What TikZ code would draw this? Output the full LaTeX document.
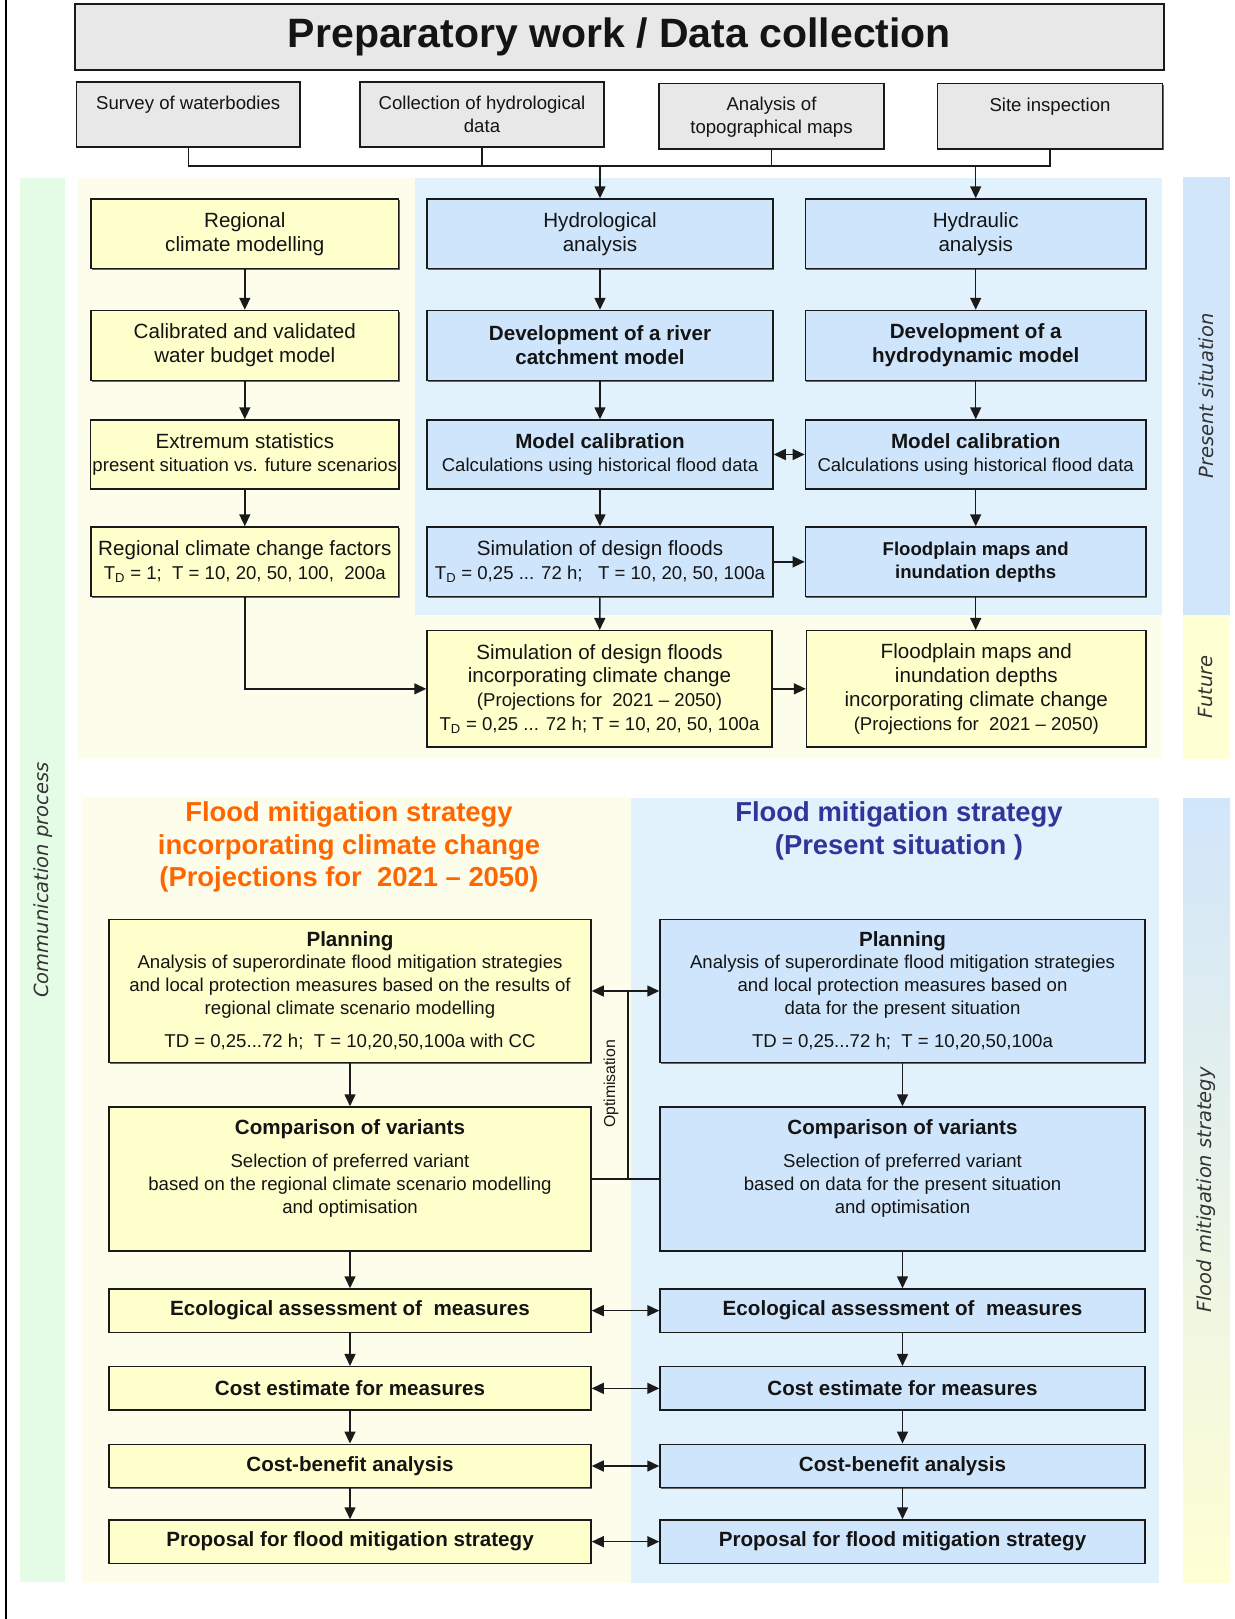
\documentclass[tikz,border=0pt]{standalone}
\usepackage{fontspec}
\setmainfont{Liberation Sans}
\newfontfamily\sidefont{DejaVu Sans}
\usetikzlibrary{arrows.meta,shadows}
\definecolor{cBoxY}{HTML}{FFFFCC}
\definecolor{cBoxB}{HTML}{CFE5FC}
\definecolor{cGray}{HTML}{E8E8E8}
\definecolor{cPanY}{HTML}{FDFDEB}
\definecolor{cPanB}{HTML}{E2F2FD}
\definecolor{cGreen}{HTML}{E4FCE6}
\definecolor{cStripB}{HTML}{D2E6FB}
\definecolor{cStripY}{HTML}{FFFFD4}
\definecolor{cStripM}{HTML}{E9F2E6}
\definecolor{cOrange}{HTML}{FF6600}
\definecolor{cNavy}{HTML}{333399}
\definecolor{cLine}{HTML}{1A1A1A}
\newcommand\fa{\fontsize{20.6pt}{23.8pt}\selectfont}
\newcommand\fb{\fontsize{18.6pt}{22.8pt}\selectfont}
\newcommand\fhead{\fontsize{41pt}{46pt}\selectfont\bfseries}
\newcommand\ftitle{\fontsize{27.4pt}{32.5pt}\selectfont\bfseries}
\newcommand\fside{\sidefont\itshape\fontsize{19.5pt}{22pt}\selectfont}
\newcommand\fopt{\fontsize{15.8pt}{18pt}\selectfont}
\tikzset{
  box/.style={draw=cLine, line width=1.5pt, inner sep=2pt, align=center, font=\fa, text=black!92,
    general shadow={fill=black!60, shadow xshift=1pt, shadow yshift=-1pt}},
  yb/.style={box, fill=cBoxY},
  bb/.style={box, fill=cBoxB},
  gb/.style={box, fill=cGray},
  sz/.style 2 args={minimum width=#1, minimum height=#2},
  txt/.style={inner sep=0pt, align=center, text=black!92},
  ln/.style={draw=cLine, line width=1.5pt},
  arr/.style={ln, -{Triangle[length=12pt,width=11pt]}},
  dbl/.style={ln, {Triangle[length=12pt,width=11pt]}-{Triangle[length=12pt,width=11pt]}},
  side/.style={rotate=90, font=\fside, text=black!80, inner sep=0pt}
}
\begin{document}
\begin{tikzpicture}[x=1pt,y=-1pt]
\useasboundingbox (0,0) rectangle (1234,1619);
\fill[white] (0,0) rectangle (1234,1619);
% left border line
\draw[line width=2pt, black] (6,0) -- (6,1619);
% background panels
\fill[cGreen] (20,178) rectangle (64.5,1582);
\fill[cPanY] (76.5,178) rectangle (1162,759);
\fill[cPanB] (415,178) rectangle (1162,614.7);
\fill[cPanY] (82,797) rectangle (631,1582.5);
\fill[cPanB] (631,798) rectangle (1158.5,1582.5);
\fill[cStripB] (1183,177) rectangle (1230,614.7);
\fill[cStripY] (1183,614.7) rectangle (1230,759);
\shade[top color=cStripB, middle color=cStripM, bottom color=cStripY] (1183,798) rectangle (1230,1582);
% side labels
\node[side] (lcomm) at (43,880) {Communication process};
\node[side] (lpres) at (1206,396) {Present situation};
\node[side] (lfut) at (1206,687) {Future};
\node[side] (lflood) at (1206,1190) {Flood mitigation strategy};

% header
\node[gb, sz={1089pt}{66pt}, font=\fhead] (head) at (619.5,37) {Preparatory work / Data collection};
\node[gb, sz={223.5pt}{65pt}] (survey) at (188.25,114.5) {};
\node[gb, sz={244pt}{65pt}] (coll) at (482,114.5) {};
\node[gb, sz={225pt}{65.5pt}] (anal) at (771.5,116.25) {};
\node[gb, sz={225pt}{65.5pt}] (site) at (1050,116.25) {};
\node[txt, font=\fb] (tsurvey) at (188.25,105) {Survey of waterbodies};
\node[txt, font=\fb] (tcoll) at (482,114.5) {Collection of hydrological\\data};
\node[txt, font=\fb] (tanal) at (771.5,117) {Analysis of\\topographical maps};
\node[txt, font=\fb] (tsite) at (1050,106.5) {Site inspection};

% upper left column
\node[yb, sz={307.6pt}{69.7pt}] (reg) at (244.8,233.85) {Regional\\climate modelling};
\node[yb, sz={307.6pt}{70pt}] (cal) at (244.8,345.5) {Calibrated and validated\\water budget model};
\node[yb, sz={307.6pt}{69pt}] (ext) at (244.8,454.5) {Extremum statistics\\{\fb present situation vs. future scenarios}};
\node[yb, sz={307.6pt}{69.7pt}] (fac) at (244.8,561.85) {Regional climate change factors\\{\fb T\textsubscript{D} = 1;\ \ T = 10, 20, 50, 100,\ \ 200a}};
% middle column
\node[bb, sz={346pt}{69.7pt}] (hyd) at (600,233.85) {Hydrological\\analysis};
\node[bb, sz={346pt}{70pt}] (dev1) at (600,345.5) {\bfseries Development of a river\\\bfseries catchment model};
\node[bb, sz={346pt}{69pt}] (mc1) at (600,454.5) {\bfseries Model calibration\\{\fb Calculations using historical flood data}};
\node[bb, sz={346pt}{69.7pt}] (sim) at (600,561.85) {Simulation of design floods\\{\fb T\textsubscript{D} = 0,25 ... 72 h;\ \ \ T = 10, 20, 50, 100a}};
% right column
\node[bb, sz={340.6pt}{69.7pt}] (hyr) at (975.7,233.85) {Hydraulic\\analysis};
\node[bb, sz={340.6pt}{70pt}] (dev2) at (975.7,345.5) {\bfseries Development of a\\\bfseries hydrodynamic model};
\node[bb, sz={340.6pt}{69pt}] (mc2) at (975.7,454.5) {\bfseries Model calibration\\{\fb Calculations using historical flood data}};
\node[bb, sz={340.6pt}{69.7pt}, font=\fb\bfseries] (fp) at (975.7,561.85) {Floodplain maps and\\inundation depths};
% future row
\node[yb, sz={345pt}{116.3pt}] (simcc) at (599.5,688.85) {Simulation of design floods\\incorporating climate change\\{\fb (Projections for\ \ 2021 -- 2050)}\\{\fb T\textsubscript{D} = 0,25 ... 72 h; T = 10, 20, 50, 100a}};
\node[yb, sz={339.4pt}{116.3pt}] (fpcc) at (976.3,688.85) {Floodplain maps and\\inundation depths\\incorporating climate change\\{\fb (Projections for\ \ 2021 -- 2050)}};

% lower titles
\node[txt, font=\ftitle, text=cOrange] (titL) at (349,847.3) {Flood mitigation strategy\\incorporating climate change\\(Projections for\ \ 2021 -- 2050)};
\node[txt, font=\ftitle, text=cNavy] (titR) at (899,831) {Flood mitigation strategy\\(Present situation )};

% lower boxes left
\node[yb, sz={482pt}{143.4pt}] (planL) at (350,991) {};
\node[yb, sz={482pt}{144pt}] (cmpL) at (350,1179) {};
\node[yb, sz={482pt}{43.3pt}, font=\fa\bfseries] (ecoL) at (350,1310.65) {Ecological assessment of\ \ measures};
\node[yb, sz={482pt}{43.3pt}, font=\fa\bfseries] (cstL) at (350,1388.35) {Cost estimate for measures};
\node[yb, sz={482pt}{43.4pt}, font=\fa\bfseries] (cbaL) at (350,1466) {Cost-benefit analysis};
\node[yb, sz={482pt}{43.3pt}, font=\fa\bfseries] (prpL) at (350,1541.65) {Proposal for flood mitigation strategy};
% lower boxes right
\node[bb, sz={485pt}{143.4pt}] (planR) at (902.5,991) {};
\node[bb, sz={485pt}{144pt}] (cmpR) at (902.5,1179) {};
\node[bb, sz={485pt}{43.3pt}, font=\fa\bfseries] (ecoR) at (902.5,1310.65) {Ecological assessment of\ \ measures};
\node[bb, sz={485pt}{43.3pt}, font=\fa\bfseries] (cstR) at (902.5,1388.35) {Cost estimate for measures};
\node[bb, sz={485pt}{43.4pt}, font=\fa\bfseries] (cbaR) at (902.5,1466) {Cost-benefit analysis};
\node[bb, sz={485pt}{43.3pt}, font=\fa\bfseries] (prpR) at (902.5,1541.65) {Proposal for flood mitigation strategy};

% planning texts
\node[txt, font=\fa\bfseries] (plLt) at (350,941.7) {Planning};
\node[txt, font=\fb] (plLb) at (350,986.7) {Analysis of superordinate flood mitigation strategies\\and local protection measures based on the results of\\regional climate scenario modelling};
\node[txt, font=\fb] (plLd) at (350,1041.7) {TD = 0,25...72 h;\ \ T = 10,20,50,100a with CC};
\node[txt, font=\fa\bfseries] (plRt) at (902.5,941.7) {Planning};
\node[txt, font=\fb] (plRb) at (902.5,986.7) {Analysis of superordinate flood mitigation strategies\\and local protection measures based on\\data for the present situation};
\node[txt, font=\fb] (plRd) at (902.5,1041.7) {TD = 0,25...72 h;\ \ T = 10,20,50,100a};
% comparison texts
\node[txt, font=\fa\bfseries] (cmLt) at (350,1129) {Comparison of variants};
\node[txt, font=\fb] (cmLb) at (350,1185.5) {Selection of preferred variant\\based on the regional climate scenario modelling\\and optimisation};
\node[txt, font=\fa\bfseries] (cmRt) at (902.5,1129) {Comparison of variants};
\node[txt, font=\fb] (cmRb) at (902.5,1185.5) {Selection of preferred variant\\based on data for the present situation\\and optimisation};
\node[txt, font=\fopt, rotate=90] (opt) at (611,1084) {Optimisation};

% connectors top
\coordinate (barY) at (0,166);
\draw[ln] (survey.south) -- (survey.south |- barY) -- (site.south |- barY) -- (site.south);
\draw[ln] (coll.south) -- (coll.south |- barY);
\draw[ln] (anal.south) -- (anal.south |- barY);
\draw[arr] (hyd.north |- barY) -- (hyd.north);
\draw[arr] (hyr.north |- barY) -- (hyr.north);
% upper vertical arrows
\draw[arr] (reg) -- (cal);
\draw[arr] (cal) -- (ext);
\draw[arr] (ext) -- (fac);
\draw[arr] (hyd) -- (dev1);
\draw[arr] (dev1) -- (mc1);
\draw[arr] (mc1) -- (sim);
\draw[arr] (sim) -- (simcc);
\draw[arr] (hyr) -- (dev2);
\draw[arr] (dev2) -- (mc2);
\draw[arr] (mc2) -- (fp);
\draw[arr] (fp.south) -- (fpcc.north -| fp.south);
\draw[dbl] (mc1) -- (mc2);
\draw[arr] (sim) -- (fp);
\draw[arr] (fac.south) |- (simcc.west);
\draw[arr] (simcc) -- (fpcc);
% lower
\draw[arr] (planL) -- (cmpL);
\draw[arr] (cmpL) -- (ecoL);
\draw[arr] (ecoL) -- (cstL);
\draw[arr] (cstL) -- (cbaL);
\draw[arr] (cbaL) -- (prpL);
\draw[arr] (planR) -- (cmpR);
\draw[arr] (cmpR) -- (ecoR);
\draw[arr] (ecoR) -- (cstR);
\draw[arr] (cstR) -- (cbaR);
\draw[arr] (cbaR) -- (prpR);
\draw[dbl] (planL) -- (planR);
\coordinate (optT) at (628,991);
\coordinate (optB) at (628,1179);
\draw[ln] (optT) -- (optB);
\draw[ln] (cmpL) -- (cmpR);
\draw[dbl] (ecoL) -- (ecoR);
\draw[dbl] (cstL) -- (cstR);
\draw[dbl] (cbaL) -- (cbaR);
\draw[dbl] (prpL) -- (prpR);
\end{tikzpicture}
\end{document}
